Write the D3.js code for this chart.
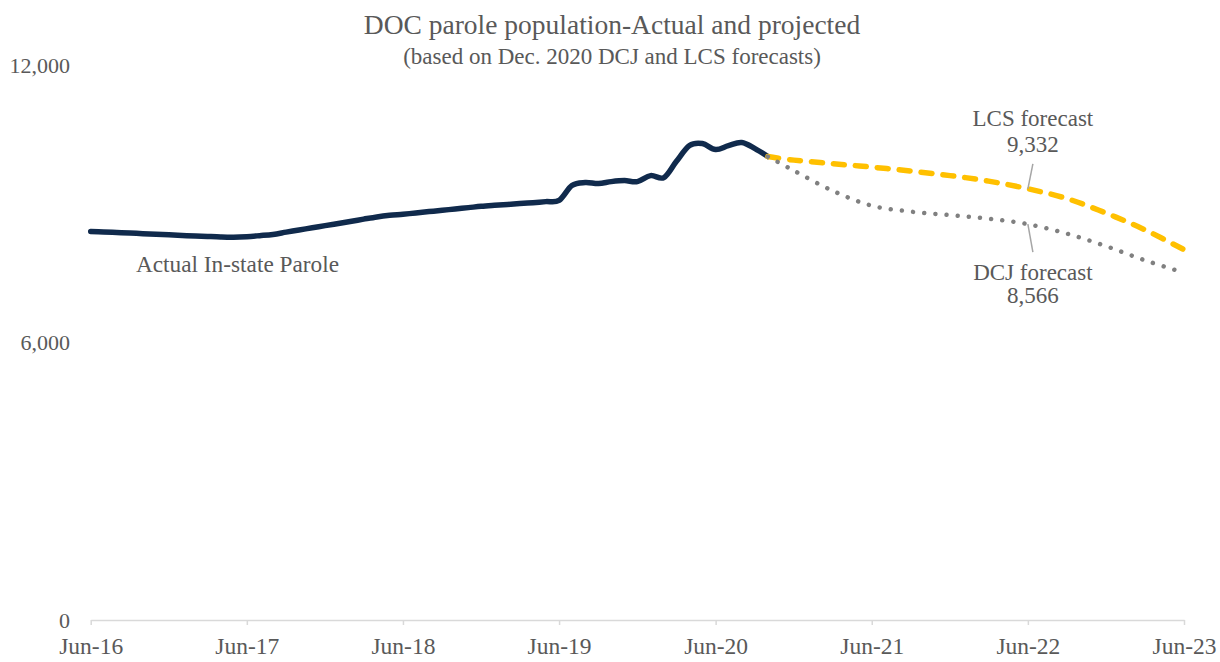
<!DOCTYPE html>
<html><head><meta charset="utf-8">
<script src="https://cdn.jsdelivr.net/npm/d3@7"></script>
<style>
body{margin:0;background:#fff}
text{font-family:"Liberation Serif","Times New Roman",serif;fill:#595959}
</style>
</head><body>
<svg id="c" width="1220" height="662"></svg>
<script>
// ---- data ----
const actualStart = "2016-06";
const actualValues = [8409, 8398, 8387, 8374, 8361, 8348, 8335, 8322, 8311, 8300, 8289, 8285,
  8296, 8318, 8344, 8394, 8441, 8487, 8534, 8582, 8630, 8675, 8723, 8757,
  8781, 8809, 8838, 8866, 8896, 8924, 8952, 8974, 8994, 9013, 9032, 9054,
  9080, 9401, 9466, 9444, 9487, 9509, 9487, 9617, 9574, 9921, 10267, 10310,
  10181, 10267, 10332, 10202, 10029];
const forecastMonths = ["2020-10","2020-12","2021-03","2021-06","2021-09","2021-12","2022-03","2022-06","2022-09","2022-12","2023-03","2023-06"];
const lcsValues = [10029, 9952, 9876, 9801, 9714, 9617, 9498, 9332, 9118, 8805, 8447, 8014];
const dcjValues = [10029, 9725, 9291, 8967, 8837, 8761, 8685, 8566, 8360, 8090, 7786, 7516];
const xTickLabels = ["Jun-16","Jun-17","Jun-18","Jun-19","Jun-20","Jun-21","Jun-22","Jun-23"];
const yTicks = [0, 6000, 12000];
const labelMonth = "2022-06";
const lcsLabel = ["LCS forecast", "9,332"];
const dcjLabel = ["DCJ forecast", "8,566"];
const seriesLabel = "Actual In-state Parole";
const title = "DOC parole population-Actual and projected";
const subtitle = "(based on Dec. 2020 DCJ and LCS forecasts)";

// ---- setup ----
const parseM = d3.timeParse("%Y-%m");
const parseTick = d3.timeParse("%b-%y");
const svg = d3.select("#c");
const x = d3.scaleTime().domain([parseTick(xTickLabels[0]), parseTick(xTickLabels[xTickLabels.length-1])]).range([90.7, 1184]);
const y = d3.scaleLinear().domain([0, 12000]).range([620, 65.5]);

const start = parseM(actualStart);
const actual = actualValues.map((v,i)=>({d:d3.timeMonth.offset(start,i), v}));
const lcs = forecastMonths.map((m,i)=>({d:parseM(m), v:lcsValues[i]}));
const dcj = forecastMonths.map((m,i)=>({d:parseM(m), v:dcjValues[i]}));

// titles
svg.append("text").attr("x",612).attr("y",34).attr("text-anchor","middle")
  .style("font-size","27.5px").text(title);
svg.append("text").attr("x",612).attr("y",64).attr("text-anchor","middle")
  .style("font-size","23px").text(subtitle);

// x axis
const xAxis = d3.axisBottom(x).tickValues(xTickLabels.map(parseTick)).tickFormat(d3.timeFormat("%b-%y")).tickSize(5).tickSizeOuter(0);
const gx = svg.append("g").attr("transform","translate(0,620)").call(xAxis);
gx.select(".domain").attr("stroke","#d9d9d9").attr("stroke-width",1.5);
gx.selectAll(".tick line").attr("stroke","#d9d9d9").attr("stroke-width",1.5);
gx.selectAll(".tick text").attr("y",17).attr("dy","0.71em").style("font-size","23.5px").style("fill","#595959").style("font-family","'Liberation Serif',serif");

// y labels
const yAxis = d3.axisLeft(y).tickValues(yTicks).tickFormat(d3.format(",")).tickSize(0);
const gy = svg.append("g").attr("transform","translate(70,0)").call(yAxis);
gy.select(".domain").remove();
gy.selectAll(".tick text").attr("x",0).style("font-size","22px").style("fill","#595959").style("font-family","'Liberation Serif',serif");

// lines
const line = d3.line().x(d=>x(d.d)).y(d=>y(d.v)).curve(d3.curveCatmullRom.alpha(0));
svg.append("path").datum(actual).attr("d",line).attr("fill","none")
  .attr("stroke","#102a4c").attr("stroke-width",5.5).attr("stroke-linecap","round").attr("stroke-linejoin","round");
svg.append("path").datum(lcs).attr("d",line).attr("fill","none")
  .attr("stroke","#ffc000").attr("stroke-width",5.5).attr("stroke-dasharray","11,11").attr("stroke-linecap","round");
svg.append("path").datum(dcj).attr("d",line).attr("fill","none")
  .attr("stroke","#808080").attr("stroke-width",4.5).attr("stroke-dasharray","0.01,11.2").attr("stroke-linecap","round");

// leader lines & labels
const lx = x(parseM(labelMonth));
const lcsV = lcsValues[forecastMonths.indexOf(labelMonth)];
const dcjV = dcjValues[forecastMonths.indexOf(labelMonth)];
svg.append("line").attr("x1",lx).attr("y1",y(lcsV)).attr("x2",lx+5).attr("y2",y(lcsV)-25)
  .attr("stroke","#a6a6a6").attr("stroke-width",1.5);
svg.append("line").attr("x1",lx).attr("y1",y(dcjV)).attr("x2",lx+5).attr("y2",y(dcjV)+28)
  .attr("stroke","#a6a6a6").attr("stroke-width",1.5);
const lt = svg.append("text").attr("text-anchor","middle").style("font-size","23px");
lt.append("tspan").attr("x",lx+5).attr("y",y(lcsV)-62.5).text(lcsLabel[0]);
lt.append("tspan").attr("x",lx+5).attr("y",y(lcsV)-37).text(lcsLabel[1]);
const dt = svg.append("text").attr("text-anchor","middle").style("font-size","23px");
dt.append("tspan").attr("x",lx+5).attr("y",y(dcjV)+55.5).text(dcjLabel[0]);
dt.append("tspan").attr("x",lx+5).attr("y",y(dcjV)+79).text(dcjLabel[1]);

svg.append("text").attr("x",237.5).attr("y",272).attr("text-anchor","middle").style("font-size","23.3px").text(seriesLabel);
</script>
</body></html>
